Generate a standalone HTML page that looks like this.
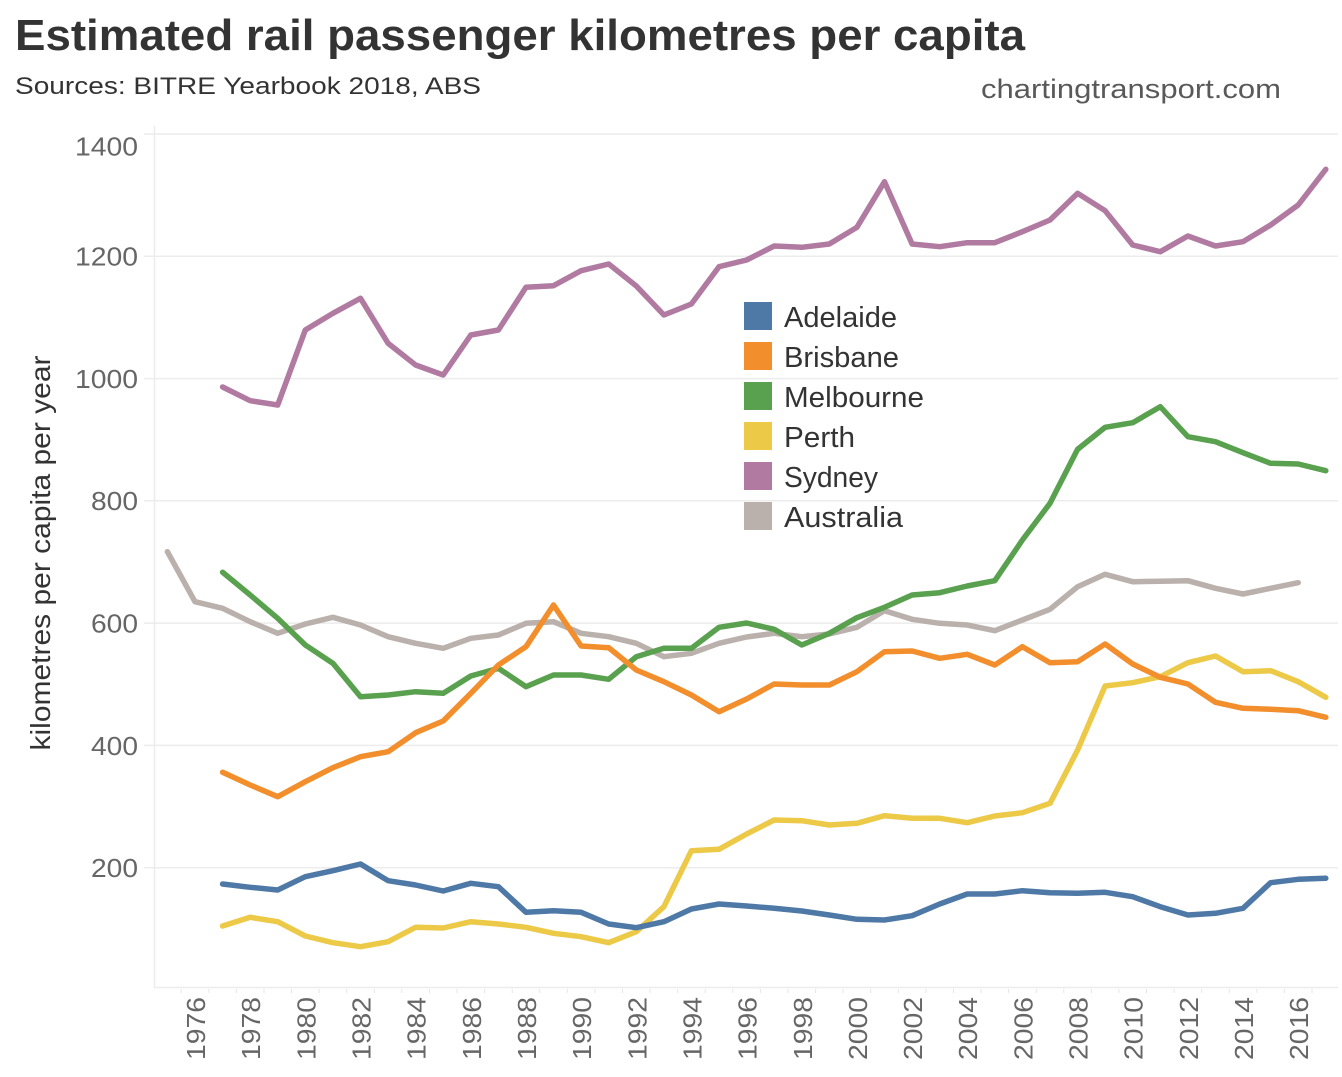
<!DOCTYPE html>
<html>
<head>
<meta charset="utf-8">
<style>
html,body{margin:0;padding:0;background:#fff;}
svg{display:block;}
text{font-family:"Liberation Sans",sans-serif;}
</style>
</head>
<body>
<svg width="1342" height="1077" viewBox="0 0 1342 1077" xmlns="http://www.w3.org/2000/svg">
<rect x="0" y="0" width="1342" height="1077" fill="#fff"/>

<!-- Title -->
<text x="15" y="50" font-size="44" font-weight="bold" fill="#333" textLength="1010" lengthAdjust="spacingAndGlyphs">Estimated rail passenger kilometres per capita</text>
<text x="15" y="94" font-size="24" fill="#333" textLength="466" lengthAdjust="spacingAndGlyphs">Sources: BITRE Yearbook 2018, ABS</text>
<text x="981" y="98" font-size="27" fill="#595959" textLength="300" lengthAdjust="spacingAndGlyphs">chartingtransport.com</text>

<!-- Gridlines -->
<g stroke="#ececec" stroke-width="1.5" fill="none">
<line x1="144" y1="134" x2="1338" y2="134"/>
<line x1="144" y1="256.3" x2="1338" y2="256.3"/>
<line x1="144" y1="378.6" x2="1338" y2="378.6"/>
<line x1="144" y1="500.8" x2="1338" y2="500.8"/>
<line x1="144" y1="623.1" x2="1338" y2="623.1"/>
<line x1="144" y1="745.4" x2="1338" y2="745.4"/>
<line x1="144" y1="867.7" x2="1338" y2="867.7"/>
<line x1="154.5" y1="126" x2="154.5" y2="988"/>
<line x1="154" y1="987.5" x2="1338" y2="987.5"/>
</g>
<!-- small x ticks -->
<g stroke="#e6e6e6" stroke-width="1">
<line x1="181.2" y1="989" x2="181.2" y2="993"/><line x1="208.8" y1="989" x2="208.8" y2="993"/><line x1="236.4" y1="989" x2="236.4" y2="993"/><line x1="264" y1="989" x2="264" y2="993"/><line x1="291.5" y1="989" x2="291.5" y2="993"/><line x1="319.1" y1="989" x2="319.1" y2="993"/><line x1="346.7" y1="989" x2="346.7" y2="993"/><line x1="374.3" y1="989" x2="374.3" y2="993"/><line x1="401.8" y1="989" x2="401.8" y2="993"/><line x1="429.4" y1="989" x2="429.4" y2="993"/><line x1="457" y1="989" x2="457" y2="993"/><line x1="484.6" y1="989" x2="484.6" y2="993"/><line x1="512.2" y1="989" x2="512.2" y2="993"/><line x1="539.8" y1="989" x2="539.8" y2="993"/><line x1="567.3" y1="989" x2="567.3" y2="993"/><line x1="594.9" y1="989" x2="594.9" y2="993"/><line x1="622.5" y1="989" x2="622.5" y2="993"/><line x1="650.1" y1="989" x2="650.1" y2="993"/><line x1="677.7" y1="989" x2="677.7" y2="993"/><line x1="705.2" y1="989" x2="705.2" y2="993"/><line x1="732.8" y1="989" x2="732.8" y2="993"/><line x1="760.4" y1="989" x2="760.4" y2="993"/><line x1="788" y1="989" x2="788" y2="993"/><line x1="815.6" y1="989" x2="815.6" y2="993"/><line x1="843.1" y1="989" x2="843.1" y2="993"/><line x1="870.7" y1="989" x2="870.7" y2="993"/><line x1="898.3" y1="989" x2="898.3" y2="993"/><line x1="925.9" y1="989" x2="925.9" y2="993"/><line x1="953.5" y1="989" x2="953.5" y2="993"/><line x1="981" y1="989" x2="981" y2="993"/><line x1="1008.6" y1="989" x2="1008.6" y2="993"/><line x1="1036.2" y1="989" x2="1036.2" y2="993"/><line x1="1063.8" y1="989" x2="1063.8" y2="993"/><line x1="1091.4" y1="989" x2="1091.4" y2="993"/><line x1="1118.9" y1="989" x2="1118.9" y2="993"/><line x1="1146.5" y1="989" x2="1146.5" y2="993"/><line x1="1174.1" y1="989" x2="1174.1" y2="993"/><line x1="1201.7" y1="989" x2="1201.7" y2="993"/><line x1="1229.3" y1="989" x2="1229.3" y2="993"/><line x1="1256.8" y1="989" x2="1256.8" y2="993"/><line x1="1284.4" y1="989" x2="1284.4" y2="993"/><line x1="1312" y1="989" x2="1312" y2="993"/>
</g>

<!-- Y tick labels -->
<g font-size="26" fill="#666" text-anchor="end">
<text x="138" y="155.5" textLength="63" lengthAdjust="spacingAndGlyphs">1400</text>
<text x="138" y="265.6" textLength="63" lengthAdjust="spacingAndGlyphs">1200</text>
<text x="138" y="388" textLength="63" lengthAdjust="spacingAndGlyphs">1000</text>
<text x="138" y="510.2" textLength="47" lengthAdjust="spacingAndGlyphs">800</text>
<text x="138" y="632.5" textLength="47" lengthAdjust="spacingAndGlyphs">600</text>
<text x="138" y="754.8" textLength="47" lengthAdjust="spacingAndGlyphs">400</text>
<text x="138" y="877.1" textLength="47" lengthAdjust="spacingAndGlyphs">200</text>
</g>

<!-- Y axis title -->
<text transform="translate(50,553) rotate(-90)" font-size="28" fill="#333" text-anchor="middle" textLength="395" lengthAdjust="spacingAndGlyphs">kilometres per capita per year</text>

<!-- X tick labels -->
<g font-size="26" fill="#666" text-anchor="end">
<text transform="translate(205,997) rotate(-90)" textLength="63" lengthAdjust="spacingAndGlyphs">1976</text>
<text transform="translate(260.2,997) rotate(-90)" textLength="63" lengthAdjust="spacingAndGlyphs">1978</text>
<text transform="translate(315.3,997) rotate(-90)" textLength="63" lengthAdjust="spacingAndGlyphs">1980</text>
<text transform="translate(370.5,997) rotate(-90)" textLength="63" lengthAdjust="spacingAndGlyphs">1982</text>
<text transform="translate(425.6,997) rotate(-90)" textLength="63" lengthAdjust="spacingAndGlyphs">1984</text>
<text transform="translate(480.8,997) rotate(-90)" textLength="63" lengthAdjust="spacingAndGlyphs">1986</text>
<text transform="translate(536,997) rotate(-90)" textLength="63" lengthAdjust="spacingAndGlyphs">1988</text>
<text transform="translate(591.1,997) rotate(-90)" textLength="63" lengthAdjust="spacingAndGlyphs">1990</text>
<text transform="translate(646.3,997) rotate(-90)" textLength="63" lengthAdjust="spacingAndGlyphs">1992</text>
<text transform="translate(701.4,997) rotate(-90)" textLength="63" lengthAdjust="spacingAndGlyphs">1994</text>
<text transform="translate(756.6,997) rotate(-90)" textLength="63" lengthAdjust="spacingAndGlyphs">1996</text>
<text transform="translate(811.8,997) rotate(-90)" textLength="63" lengthAdjust="spacingAndGlyphs">1998</text>
<text transform="translate(866.9,997) rotate(-90)" textLength="63" lengthAdjust="spacingAndGlyphs">2000</text>
<text transform="translate(922.1,997) rotate(-90)" textLength="63" lengthAdjust="spacingAndGlyphs">2002</text>
<text transform="translate(977.2,997) rotate(-90)" textLength="63" lengthAdjust="spacingAndGlyphs">2004</text>
<text transform="translate(1032.4,997) rotate(-90)" textLength="63" lengthAdjust="spacingAndGlyphs">2006</text>
<text transform="translate(1087.6,997) rotate(-90)" textLength="63" lengthAdjust="spacingAndGlyphs">2008</text>
<text transform="translate(1142.7,997) rotate(-90)" textLength="63" lengthAdjust="spacingAndGlyphs">2010</text>
<text transform="translate(1197.9,997) rotate(-90)" textLength="63" lengthAdjust="spacingAndGlyphs">2012</text>
<text transform="translate(1253,997) rotate(-90)" textLength="63" lengthAdjust="spacingAndGlyphs">2014</text>
<text transform="translate(1308.2,997) rotate(-90)" textLength="63" lengthAdjust="spacingAndGlyphs">2016</text>
</g>

<!-- Series -->
<g fill="none" stroke-width="5.5" stroke-linejoin="round" stroke-linecap="round">
<polyline stroke="#bab0ac" points="167.4,551.7 195,601.7 222.6,608.3 250.2,621.7 277.7,633.3 305.3,624 332.9,617.3 360.5,625 388.1,636.7 415.6,643.3 443.2,648.3 470.8,638.3 498.4,635 526,623.3 553.5,621.7 581.1,633.3 608.7,636.7 636.3,643.3 663.9,656.7 691.4,653.3 719,643.3 746.6,637 774.2,633.3 801.8,636.7 829.3,634 856.9,627.3 884.5,610.7 912.1,619.3 939.7,623.3 967.2,625 994.8,630.7 1022.4,620 1050,609.3 1077.6,586.7 1105.1,574.3 1132.7,581.7 1160.3,581.3 1187.9,580.7 1215.5,588.3 1243,594 1270.6,588.3 1298.2,582.7"/>
<polyline stroke="#b07aa1" points="222.6,387 250.2,400.7 277.7,405 305.3,330 332.9,313.3 360.5,298.3 388.1,343.3 415.6,365 443.2,375 470.8,335 498.4,330 526,287.3 553.5,285.7 581.1,270.7 608.7,264 636.3,286 663.9,315 691.4,304 719,266.7 746.6,260 774.2,246 801.8,247.3 829.3,244 856.9,227.3 884.5,181.7 912.1,244 939.7,246.7 967.2,242.7 994.8,242.7 1022.4,231.7 1050,220 1077.6,193.3 1105.1,210.7 1132.7,245 1160.3,251.7 1187.9,236 1215.5,246 1243,241.7 1270.6,225 1298.2,205 1325.8,169.3"/>
<polyline stroke="#edc948" points="222.6,926 250.2,917.3 277.7,921.7 305.3,936 332.9,942.7 360.5,946.7 388.1,941.7 415.6,927.3 443.2,928 470.8,921.7 498.4,924 526,927.3 553.5,933.3 581.1,936.7 608.7,942.7 636.3,931.7 663.9,906.7 691.4,850.7 719,849.3 746.6,834 774.2,820 801.8,820.7 829.3,825 856.9,823.3 884.5,815.7 912.1,818.3 939.7,818.3 967.2,822.7 994.8,816 1022.4,812.7 1050,803.3 1077.6,750 1105.1,686 1132.7,682.7 1160.3,676.7 1187.9,662.7 1215.5,656 1243,671.7 1270.6,670.7 1298.2,681.7 1325.8,697.3"/>
<polyline stroke="#59a14f" points="222.6,572.3 250.2,595 277.7,618.3 305.3,645 332.9,663.3 360.5,696.7 388.1,695 415.6,691.7 443.2,693.3 470.8,676 498.4,668.3 526,686.7 553.5,675 581.1,675 608.7,679.3 636.3,656.7 663.9,648.3 691.4,648.3 719,627.3 746.6,623 774.2,629.3 801.8,645 829.3,633.3 856.9,617.7 884.5,607.3 912.1,595 939.7,592.7 967.2,586 994.8,580.7 1022.4,540 1050,503.3 1077.6,449.3 1105.1,427.3 1132.7,422.7 1160.3,406.7 1187.9,436.7 1215.5,441.7 1243,452.7 1270.6,463.3 1298.2,464 1325.8,470.7"/>
<polyline stroke="#f28e2b" points="222.6,772.3 250.2,785 277.7,796.7 305.3,781.7 332.9,767.7 360.5,756.7 388.1,751.7 415.6,732.7 443.2,721 470.8,693.3 498.4,665 526,646.7 553.5,605 581.1,646 608.7,647.7 636.3,670 663.9,681.7 691.4,695 719,711.7 746.6,699 774.2,684 801.8,685 829.3,685 856.9,671.7 884.5,651.7 912.1,651 939.7,658.3 967.2,654.3 994.8,665 1022.4,646.7 1050,662.7 1077.6,661.7 1105.1,644 1132.7,664 1160.3,677.3 1187.9,684 1215.5,702.3 1243,708.3 1270.6,709.3 1298.2,710.7 1325.8,717.3"/>
<polyline stroke="#4e79a7" points="222.6,884 250.2,887.3 277.7,890 305.3,876.7 332.9,870.7 360.5,864 388.1,880.7 415.6,885 443.2,891 470.8,883.3 498.4,886.7 526,912.3 553.5,910.7 581.1,912.3 608.7,924 636.3,927.7 663.9,921.7 691.4,909 719,904 746.6,906 774.2,908.3 801.8,911 829.3,915 856.9,919.3 884.5,920 912.1,915.7 939.7,904 967.2,894 994.8,894 1022.4,890.7 1050,892.7 1077.6,893.3 1105.1,892.3 1132.7,896.7 1160.3,906.7 1187.9,915 1215.5,913.3 1243,908.3 1270.6,882.7 1298.2,879.3 1325.8,878.3"/>
</g>

<!-- Legend -->
<g>
<rect x="744" y="302" width="28" height="28" fill="#4e79a7"/>
<rect x="744" y="342" width="28" height="28" fill="#f28e2b"/>
<rect x="744" y="382" width="28" height="28" fill="#59a14f"/>
<rect x="744" y="422" width="28" height="28" fill="#edc948"/>
<rect x="744" y="462" width="28" height="28" fill="#b07aa1"/>
<rect x="744" y="502" width="28" height="28" fill="#bab0ac"/>
</g>
<g font-size="29" fill="#333">
<text x="784" y="327" textLength="113" lengthAdjust="spacingAndGlyphs">Adelaide</text>
<text x="784" y="367" textLength="115" lengthAdjust="spacingAndGlyphs">Brisbane</text>
<text x="784" y="407" textLength="140" lengthAdjust="spacingAndGlyphs">Melbourne</text>
<text x="784" y="447" textLength="71" lengthAdjust="spacingAndGlyphs">Perth</text>
<text x="784" y="487" textLength="94" lengthAdjust="spacingAndGlyphs">Sydney</text>
<text x="784" y="527" textLength="119" lengthAdjust="spacingAndGlyphs">Australia</text>
</g>
</svg>
</body>
</html>
